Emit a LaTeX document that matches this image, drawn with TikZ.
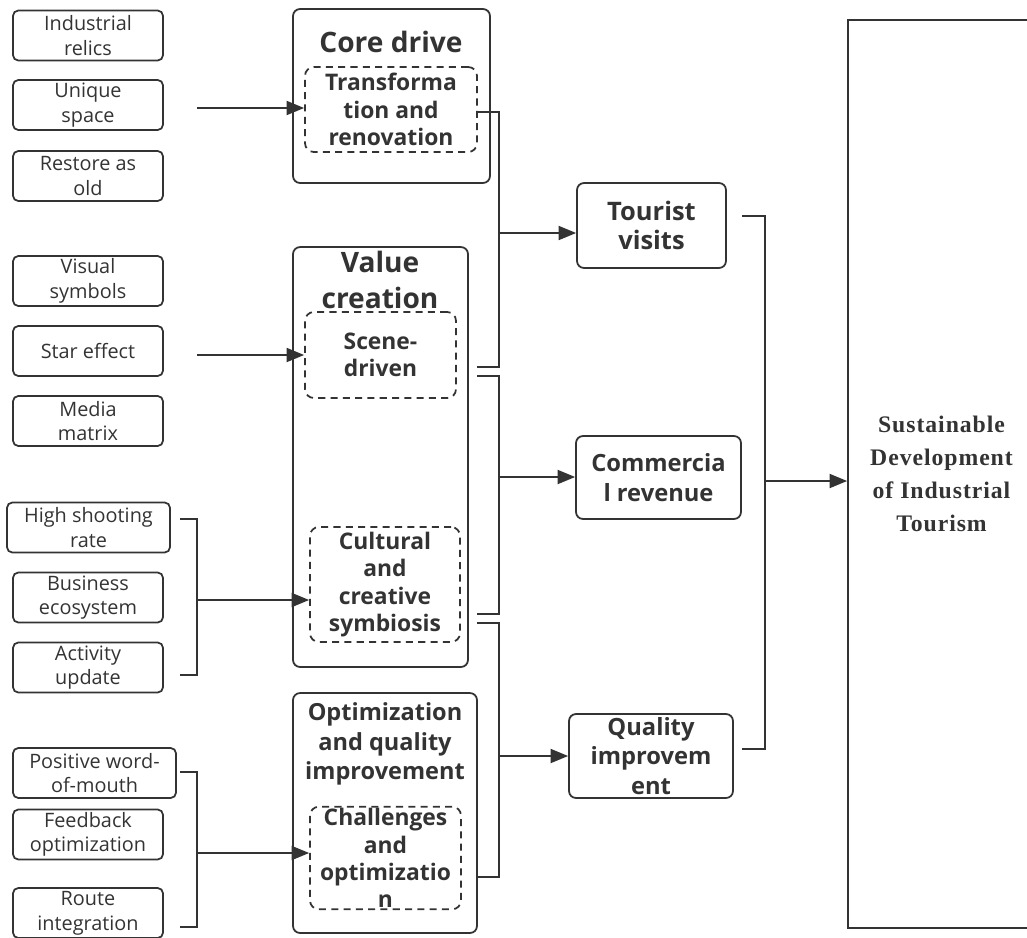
\documentclass[tikz,border=0pt]{standalone}
\usepackage{fontspec}
\setmainfont{Open Sans}
\newfontfamily\goalfont[LetterSpace=4]{Liberation Serif}
\usepackage{tikz}
\usetikzlibrary{arrows.meta}
\usetikzlibrary{positioning}
\definecolor{ink}{HTML}{333333}
\tikzset{
	line/.style={draw=ink,line width=1pt},
	arr/.style={line,-{Triangle[length=10pt,width=8pt]}},
	leaf/.style={line,rounded corners=3pt,minimum width=3cm,minimum height=1cm,inner sep=1pt,align=center,text=ink,font=\fontsize{11.3}{14}\selectfont},
	group/.style={line,rounded corners=4pt},
	inner/.style={line,dash pattern=on 4pt off 3pt,rounded corners=5pt,inner sep=1pt,align=center,text=ink,font=\bfseries\fontsize{13}{15.5}\selectfont},
	heading/.style={align=center,text=ink,font=\bfseries\fontsize{16}{20}\selectfont},
	result/.style={line,rounded corners=4pt,inner sep=1pt,align=center,text=ink,font=\bfseries\fontsize{13.5}{17}\selectfont}
}

\begin{document}
\begin{tikzpicture}[x=0.02cm,y=-0.02cm]
	\useasboundingbox (0,0) rectangle (1027,937);
	\node[leaf] (ind) at (88,35.5) {Industrial\\relics};
	\node[leaf] (uniq) at (88,105) {Unique\\space};
	\node[leaf] (rest) at (88,176) {Restore as\\old};
	\node[leaf] (vis) at (88,281) {Visual\\symbols};
	\node[leaf] (star) at (88,351) {Star effect};
	\node[leaf] (media) at (88,421) {Media\\matrix};
	\node[leaf,minimum width=3.26cm] (high) at (88.5,527.5) {High shooting\\rate};
	\node[leaf] (bus) at (88,597.5) {Business\\ecosystem};
	\node[leaf] (act) at (88,667.5) {Activity\\update};
	\node[leaf,minimum width=3.26cm] (pos) at (94.5,773) {Positive word-\\of-mouth};
	\node[leaf] (feed) at (88,834.5) {Feedback\\optimization};
	\node[leaf] (route) at (88,913) {Route\\integration};

	\node[group,minimum width=3.94cm,minimum height=3.48cm] (core) at (391.5,96) {};
	\node[group,minimum width=3.5cm,minimum height=8.4cm] (value) at (380.5,457) {};
	\node[group,minimum width=3.68cm,minimum height=4.8cm] (opt) at (385,813) {};
	\node[heading] (coret) at (391,42) {Core drive};
	\node[heading] (valuet) at (380,280) {Value\\creation};
	\node[heading,font=\bfseries\fontsize{13.4}{17}\selectfont] (optt) at (385,744) {Optimization\\and quality\\improvement};
	\node[inner,minimum width=3.44cm,minimum height=1.7cm] (trans) at (391,109.5) {Transforma\\tion and\\renovation};
	\node[inner,minimum width=3.02cm,minimum height=1.72cm] (scene) at (380.5,355) {Scene-\\driven};
	\node[inner,minimum width=3cm,minimum height=2.3cm] (cult) at (385,584.5) {Cultural\\and\\creative\\symbiosis};
	\node[inner,minimum width=3.02cm,minimum height=2.04cm] (chall) at (385.5,858) {Challenges\\and\\optimizatio\\n};

	\node[result,minimum width=2.98cm,minimum height=1.7cm,font=\bfseries\fontsize{14.5}{17}\selectfont] (tour) at (651.5,225.5) {Tourist\\visits};
	\node[result,minimum width=3.3cm,minimum height=1.66cm] (comm) at (658.5,477.5) {Commercia\\l revenue};
	\node[result,minimum width=3.28cm,minimum height=1.68cm] (qual) at (651,756) {Quality\\improvem\\ent};
	\node[line,minimum width=3.74cm,minimum height=18.16cm,align=center,text=ink,font=\goalfont\bfseries\fontsize{13.5}{18.7}\selectfont] (goal) at (941.5,474) {Sustainable\\Development\\of Industrial\\Tourism};

	\coordinate (s1) at (197,108);
	\coordinate (s2) at (197,355);
	\draw[arr] (s1) -- (s1 -| trans.west);
	\draw[arr] (s2) -- (s2 -| scene.west);
	\coordinate (l2t) at (180,519);
	\coordinate (l2b) at (180,675);
	\coordinate (j2) at (197,600);
	\draw[line] (l2t) -- ++(17,0) |- (l2b);
	\draw[arr] (j2) -- (j2 -| cult.west);
	\coordinate (l3t) at (180,772);
	\coordinate (l3b) at (180,927);
	\coordinate (j3) at (197,853);
	\draw[line] (l3t) -- ++(17,0) |- (l3b);
	\draw[arr] (j3) -- (j3 -| chall.west);

	\coordinate (r1t) at (477,112);
	\coordinate (r1b) at (477,367);
	\coordinate (k1) at (499,233);
	\draw[line] (r1t) -- ++(22,0) |- (r1b);
	\draw[arr] (k1) -- (k1 -| tour.west);
	\coordinate (r2t) at (477,376);
	\coordinate (r2b) at (477,614);
	\coordinate (k2) at (499,477);
	\draw[line] (r2t) -- ++(22,0) |- (r2b);
	\draw[arr] (k2) -- (k2 -| comm.west);
	\coordinate (r3t) at (477,623);
	\coordinate (r3b) at (477,877);
	\coordinate (k3) at (499,756);
	\draw[line] (r3t) -- ++(22,0) |- (r3b);
	\draw[arr] (k3) -- (k3 -| qual.west);

	\coordinate (g1) at (742,216);
	\coordinate (g3) at (742,749);
	\coordinate (m) at (765,481);
	\draw[line] (g1) -- ++(23,0) |- (g3);
	\draw[arr] (m) -- (m -| goal.west);
\end{tikzpicture}
\end{document}
